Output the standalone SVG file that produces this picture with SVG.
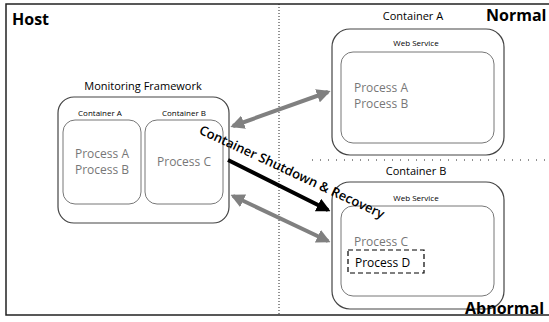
<svg xmlns="http://www.w3.org/2000/svg" width="549" height="322" viewBox="0 0 549 322">
<defs>
<style>
text{font-family:"Open Sans","Liberation Sans",sans-serif;}
.box{fill:none;stroke:#444;stroke-width:1.2;}
.inner{fill:none;stroke:#777;stroke-width:1;}
.lbl{font-size:11px;fill:#000;}
.small{font-size:8px;fill:#000;}
.proc{font-size:12px;fill:#777;}
.gray{stroke:#808080;stroke-width:4;}
.blk{stroke:#000;stroke-width:4;}
</style>
<marker id="ag" viewBox="0 0 10 10" refX="8" refY="5" markerWidth="3.5" markerHeight="3.5" orient="auto-start-reverse"><path d="M0,0 L10,5 L0,10 z" fill="#808080"/></marker>
<marker id="ab" viewBox="0 0 10 10" refX="8" refY="5" markerWidth="3.5" markerHeight="3.5" orient="auto"><path d="M0,0 L10,5 L0,10 z" fill="#000"/></marker>
</defs>
<rect width="549" height="322" fill="#fff"/>
<g id="host">
<path d="M549,4 H6 V315 H549" fill="none" stroke="#222" stroke-width="1.5"/>
<line x1="279" y1="4" x2="279" y2="315" stroke="#222" stroke-width="1" stroke-dasharray="1 2"/>
<line x1="312" y1="160" x2="549" y2="160" stroke="#222" stroke-width="1" stroke-dasharray="1 7"/>
<text x="12" y="25" font-size="16" font-weight="bold">Host</text>
</g>
<g id="monitoring">
<text x="143" y="90" class="lbl" text-anchor="middle">Monitoring Framework</text>
<rect x="58" y="97" width="171" height="126" rx="16" class="box"/>
</g>
<g id="mf-containerA">
<text x="100" y="116" class="small" text-anchor="middle">Container A</text>
<rect x="63" y="120" width="78" height="84" rx="12" class="inner"/>
<text x="102" y="158" class="proc" text-anchor="middle">Process A</text>
<text x="102" y="174" class="proc" text-anchor="middle">Process B</text>
</g>
<g id="mf-containerB">
<text x="184" y="116" class="small" text-anchor="middle">Container B</text>
<rect x="145" y="120" width="78" height="84" rx="12" class="inner"/>
<text x="184" y="166" class="proc" text-anchor="middle">Process C</text>
</g>
<g id="containerA">
<text x="413" y="20" class="lbl" text-anchor="middle">Container A</text>
<text x="486" y="21" font-size="16" font-weight="bold">Normal</text>
<rect x="332" y="29" width="172" height="126" rx="18" class="box"/>
<text x="416" y="46" class="small" text-anchor="middle">Web Service</text>
<rect x="341" y="52" width="153" height="91" rx="12" class="inner"/>
<text x="354" y="92" class="proc">Process A</text>
<text x="354" y="108" class="proc">Process B</text>
</g>
<g id="containerB">
<text x="416" y="175" class="lbl" text-anchor="middle">Container B</text>
<rect x="332" y="182" width="172" height="127" rx="18" class="box"/>
<text x="416" y="201" class="small" text-anchor="middle">Web Service</text>
<rect x="341" y="206" width="153" height="90" rx="12" class="inner"/>
<text x="354" y="246" class="proc">Process C</text>
<rect x="348" y="250" width="76" height="23" fill="none" stroke="#000" stroke-width="1.2" stroke-dasharray="5 3"/>
<text x="355" y="267" font-size="12" fill="#000">Process D</text>
<text x="465" y="314" font-size="16" font-weight="bold">Abnormal</text>
</g>
<g id="connectors">
<line x1="233" y1="126" x2="328" y2="92" class="gray" marker-start="url(#ag)" marker-end="url(#ag)"/>
<line x1="233" y1="196" x2="328" y2="241" class="gray" marker-start="url(#ag)" marker-end="url(#ag)"/>
<line x1="228" y1="160" x2="328" y2="210" class="blk" marker-end="url(#ab)"/>
<text x="290" y="176" font-size="13" font-weight="600" text-anchor="middle" transform="rotate(25 290 176)">Container Shutdown &amp; Recovery</text>
</g>
</svg>
